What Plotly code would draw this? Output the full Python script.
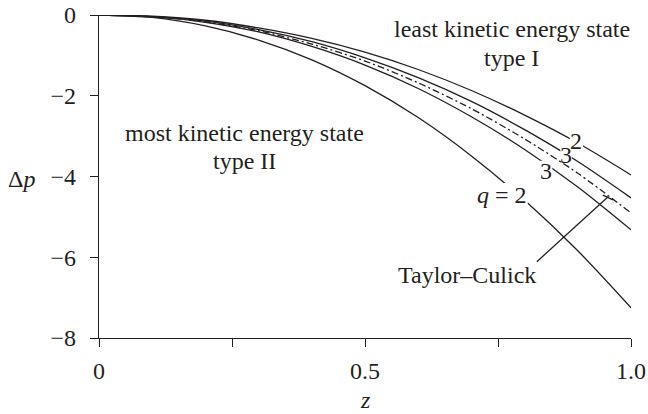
import plotly.graph_objects as go

# ---- data ----
z = [0.0, 0.1, 0.2, 0.3, 0.4, 0.5, 0.6, 0.7, 0.8, 0.9, 1.0]
least_q2 = [0, -0.03, -0.13, -0.32, -0.58, -0.92, -1.35, -1.87, -2.48, -3.17, -3.96]
least_q3 = [0, -0.04, -0.15, -0.36, -0.66, -1.06, -1.55, -2.14, -2.84, -3.63, -4.53]
taylor_culick = [0, -0.04, -0.17, -0.39, -0.72, -1.14, -1.68, -2.32, -3.07, -3.92, -4.90]
most_q3 = [0, -0.04, -0.18, -0.42, -0.78, -1.24, -1.82, -2.52, -3.33, -4.26, -5.32]
most_q2 = [0, -0.06, -0.27, -0.62, -1.11, -1.75, -2.54, -3.49, -4.59, -5.84, -7.25]

x_tickvals = [0, 0.25, 0.5, 0.75, 1.0]
x_ticktext = ["0", "", "0.5", "", "1.0"]
y_tickvals = [0, -2, -4, -6, -8]
y_ticktext = ["0", "\u22122", "\u22124", "\u22126", "\u22128"]

INK = "#231f20"
FONT = "Liberation Serif, Times New Roman, serif"
FS = 24

fig = go.Figure()
series = [
    (least_q2, "solid"),
    (least_q3, "solid"),
    (taylor_culick, "7px,3px,2px,3px"),
    (most_q3, "solid"),
    (most_q2, "solid"),
]
for ys, dash in series:
    fig.add_trace(go.Scatter(
        x=z, y=ys, mode="lines", line=dict(color=INK, width=1.3, dash=dash, shape="spline", smoothing=0.8),
        cliponaxis=False, showlegend=False, hoverinfo="skip"))

# white gaps behind curve labels
gaps = [
    (0.885, 0.910, -2.90, -3.34),
    (0.867, 0.889, -3.27, -3.59),
    (0.829, 0.852, -3.61, -4.08),
    (0.711, 0.806, -4.16, -4.73),
]
shapes = []
for x0, x1, y0, y1 in gaps:
    shapes.append(dict(type="rect", xref="x", yref="y", x0=x0, x1=x1, y0=y0, y1=y1,
                       fillcolor="white", line=dict(width=0), layer="above"))
# Taylor-Culick leader line with end bar
shapes.append(dict(type="line", xref="x", yref="y", x0=0.823, y0=-6.11, x1=0.957, y1=-4.50,
                   line=dict(color=INK, width=1.3), layer="above"))
shapes.append(dict(type="line", xref="x", yref="y", x0=0.947, y0=-4.46, x1=0.966, y1=-4.58,
                   line=dict(color=INK, width=1.3), layer="above"))

ann = []
def label(text, x, y, xref="x", yref="y"):
    ann.append(dict(text=text, x=x, y=y, xref=xref, yref=yref, showarrow=False,
                    xanchor="center", yanchor="middle", font=dict(family=FONT, size=FS, color=INK)))

label("least kinetic energy state", 0.776, -0.35)
label("type I", 0.776, -1.06)
label("most kinetic energy state", 0.274, -2.93)
label("type II", 0.274, -3.62)
label("Taylor\u2013Culick", 0.691, -6.44)
label("2", 0.897, -3.12)
label("3", 0.878, -3.47)
label("3", 0.840, -3.86)
label("<i>q</i> = 2", 0.758, -4.46)
label("\u0394<i>p</i>", -0.145, -4.06, xref="paper", yref="y")
label("<i>z</i>", 0.5, -0.192, xref="x", yref="paper")

fig.update_layout(
    width=648, height=414,
    margin=dict(l=99, r=17, t=15, b=76, pad=0, autoexpand=False),
    paper_bgcolor="white", plot_bgcolor="white",
    font=dict(family=FONT, size=FS, color=INK),
    shapes=shapes, annotations=ann,
    xaxis=dict(range=[0, 1], tickvals=x_tickvals, ticktext=x_ticktext, automargin=False,
               showline=True, linecolor=INK, linewidth=1.3,
               ticks="outside", ticklen=8, tickwidth=1.3, tickcolor=INK,
               showgrid=False, zeroline=False, ticklabelstandoff=3,
               tickfont=dict(family=FONT, size=FS, color=INK)),
    yaxis=dict(range=[-8, 0], tickvals=y_tickvals, ticktext=y_ticktext, automargin=False,
               showline=True, linecolor=INK, linewidth=1.3,
               ticks="outside", ticklen=8, tickwidth=1.3, tickcolor=INK,
               showgrid=False, zeroline=False, ticklabelstandoff=9,
               tickfont=dict(family=FONT, size=FS, color=INK)),
)

fig.write_html("out.html")
